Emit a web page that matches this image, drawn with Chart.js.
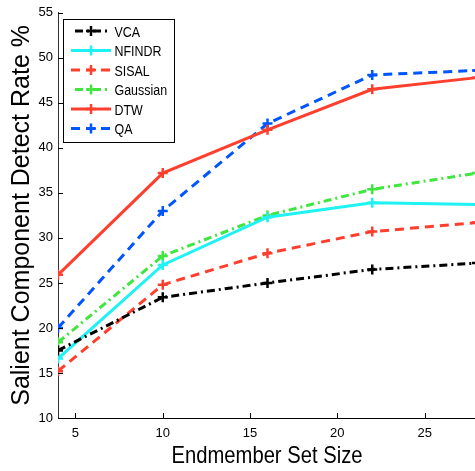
<!DOCTYPE html>
<html>
<head>
<meta charset="utf-8">
<script src="https://cdn.jsdelivr.net/npm/chart.js@4"></script>
<style>
html,body{margin:0;padding:0;overflow:hidden;background:#fff;width:475px;height:471px;}
canvas{display:block;}
</style>
</head>
<body>
<canvas id="c" width="520" height="471"></canvas>
<script>
const setSizes = [4, 10, 16, 22, 28];
const seriesNames = ['VCA', 'NFINDR', 'SISAL', 'Gaussian', 'DTW', 'QA'];
const vca      = [17.5, 23.4, 25.0, 26.5, 27.2];
const nfindr   = [16.6, 27.0, 32.3, 33.9, 33.7];
const sisal    = [15.2, 24.8, 28.3, 30.7, 31.7];
const gaussian = [18.4, 28.0, 32.5, 35.4, 37.2];
const dtw      = [25.9, 37.2, 42.0, 46.5, 47.8];
const qa       = [20.0, 33.0, 42.7, 48.1, 48.6];
const xTicks = [5, 10, 15, 20, 25];
const yTicks = [10, 15, 20, 25, 30, 35, 40, 45, 50, 55];
const xTitle = 'Endmember Set Size';
const yTitle = 'Salient Component Detect Rate %';

const seriesValues = [vca, nfindr, sisal, gaussian, dtw, qa];
const colors = ['#000000', '#1ef2f2', '#ff3f2e', '#3ee63e', '#ff3f2e', '#0055ff'];
const dashes = [[8,4,2,4], [], [9,6], [8,4,2,4], [], [9,6]];

const FONT = '"Liberation Sans", Arial, Helvetica, sans-serif';

const datasets = seriesNames.map((n, i) => ({
  label: n,
  data: setSizes.map((x, j) => ({x: x, y: seriesValues[i][j]})),
  borderColor: colors[i],
  backgroundColor: colors[i],
  borderDash: dashes[i],
  borderWidth: 3,
  pointStyle: 'cross',
  pointRadius: 5,
  pointBorderWidth: 2.5,
  pointBorderColor: colors[i],
  tension: 0,
  fill: false
}));

const inwardTicks = {
  id: 'inwardTicks',
  afterDraw(chart) {
    const ctx = chart.ctx, a = chart.chartArea;
    const xs = chart.scales.x, ys = chart.scales.y;
    ctx.save();
    ctx.strokeStyle = '#000';
    ctx.lineWidth = 1;
    xs.ticks.forEach(t => {
      const p = Math.round(xs.getPixelForValue(t.value)) + 0.5;
      ctx.beginPath(); ctx.moveTo(p, a.bottom); ctx.lineTo(p, a.bottom - 5); ctx.stroke();
    });
    ys.ticks.forEach(t => {
      const p = Math.round(ys.getPixelForValue(t.value)) + 0.5;
      ctx.beginPath(); ctx.moveTo(a.left, p); ctx.lineTo(a.left + 5, p); ctx.stroke();
    });
    ctx.restore();
  }
};

/* x-axis title, slightly condensed like the original's Helvetica */
const xTitlePlugin = {
  id: 'xTitlePlugin',
  afterDraw(chart) {
    const ctx = chart.ctx, xs = chart.scales.x;
    ctx.save();
    ctx.font = '24px ' + FONT;
    const w = ctx.measureText(xTitle).width;
    const s = 191 / w;
    const cx = (xs.left + xs.right) / 2 - 4;
    ctx.translate(cx, 463);
    ctx.scale(s, 1);
    ctx.textAlign = 'center';
    ctx.textBaseline = 'alphabetic';
    ctx.fillStyle = '#000';
    ctx.fillText(xTitle, 0, 0);
    ctx.restore();
  }
};

const boxLegend = {
  id: 'boxLegend',
  afterDraw(chart) {
    const ctx = chart.ctx;
    const bx = 63.5, by = 19.5, bw = 111, bh = 123;
    ctx.save();
    ctx.fillStyle = '#fff';
    ctx.fillRect(bx, by, bw, bh);
    ctx.strokeStyle = '#000';
    ctx.lineWidth = 1;
    ctx.strokeRect(bx, by, bw, bh);
    ctx.font = '15.5px ' + FONT;
    const s = 47 / ctx.measureText('NFINDR').width;
    ctx.textBaseline = 'alphabetic';
    chart.data.datasets.forEach((ds, i) => {
      const y = 31 + i * 19.5;
      ctx.strokeStyle = ds.borderColor;
      ctx.lineWidth = 3;
      ctx.setLineDash(ds.borderDash);
      ctx.lineDashOffset = ds.borderDash.length === 4 ? 14 : 0;
      ctx.beginPath(); ctx.moveTo(71, y); ctx.lineTo(111, y); ctx.stroke();
      ctx.setLineDash([]);
      ctx.lineWidth = 2.5;
      ctx.beginPath();
      ctx.moveTo(86, y); ctx.lineTo(96, y);
      ctx.moveTo(91, y - 5); ctx.lineTo(91, y + 5);
      ctx.stroke();
      ctx.save();
      ctx.translate(114.5, y + 5.6);
      ctx.scale(s, 1);
      ctx.fillStyle = '#000';
      ctx.fillText(ds.label, 0, 0);
      ctx.restore();
    });
    ctx.restore();
  }
};

new Chart(document.getElementById('c'), {
  type: 'line',
  data: {datasets},
  plugins: [inwardTicks, xTitlePlugin, boxLegend],
  options: {
    responsive: false,
    animation: false,
    devicePixelRatio: 1,
    layout: {padding: {top: 12, right: 36, left: 0, bottom: 0}},
    plugins: {legend: {display: false}, tooltip: {enabled: false}},
    scales: {
      x: {
        type: 'linear',
        min: 4, max: 28.4,
        afterBuildTicks: s => { s.ticks = xTicks.map(v => ({value: v})); },
        afterFit: s => { s.height = 53; },
        grid: {display: true, drawOnChartArea: false, drawTicks: false, color: '#000'},
        border: {display: true, color: '#000', width: 1},
        ticks: {color: '#000', font: {family: FONT, size: 13}, padding: 8, maxRotation: 0, autoSkip: false},
        title: {display: false, text: xTitle}
      },
      y: {
        type: 'linear',
        min: 10, max: 55,
        afterBuildTicks: s => { s.ticks = yTicks.map(v => ({value: v})); },
        afterFit: s => { s.width = 58; },
        grid: {display: true, drawOnChartArea: false, drawTicks: false, color: '#000'},
        border: {display: true, color: '#333', width: 1},
        ticks: {color: '#000', font: {family: FONT, size: 13}, padding: 5, autoSkip: false},
        title: {display: true, text: yTitle, color: '#000', font: {family: FONT, size: 25}, padding: {top: 7, bottom: 0}}
      }
    }
  }
});
</script>
</body>
</html>
